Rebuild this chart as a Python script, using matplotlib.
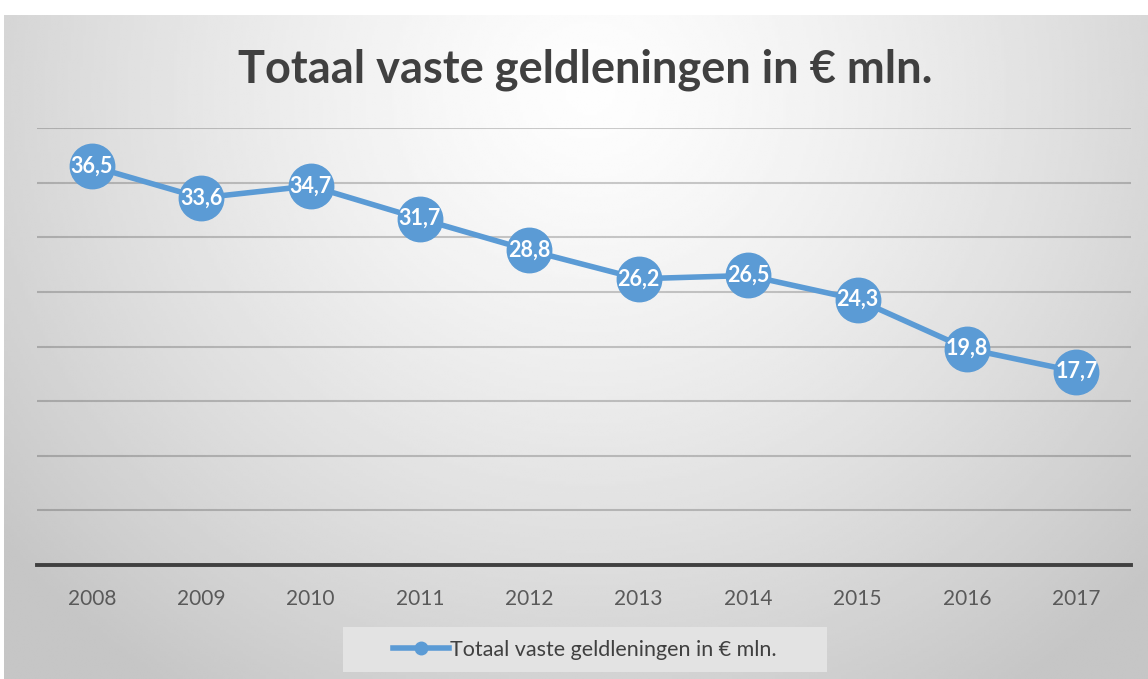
import numpy as np
import matplotlib
matplotlib.use("Agg")
from matplotlib import pyplot as plt
from matplotlib.lines import Line2D
from matplotlib.patches import Rectangle

# data
years = ['2008', '2009', '2010', '2011', '2012', '2013', '2014', '2015', '2016', '2017']
leningen = [36.5, 33.6, 34.7, 31.7, 28.8, 26.2, 26.5, 24.3, 19.8, 17.7]
labels = ['36,5', '33,6', '34,7', '31,7', '28,8', '26,2', '26,5', '24,3', '19,8', '17,7']
series_name = 'Totaal vaste geldleningen in € mln.'

blue = '#5b9bd5'
plt.rcParams['font.family'] = ['Lato', 'DejaVu Sans']

W, H = 1148, 679
fig = plt.figure(figsize=(W / 100, H / 100), dpi=100)
fig.patch.set_facecolor('white')

# radial grey background like the Excel chart area
bg = fig.add_axes([4 / W, 0, 1 - 4 / W, 664 / H], zorder=-5)
xx, yy = np.meshgrid(np.linspace(4, W, 400), np.linspace(15, H, 250))
d = np.sqrt(((xx - 590) / 1.0) ** 2 + ((yy - 90) / 0.95) ** 2)
shade = 0.995 - 0.22 * np.clip(d / 760, 0, 1) ** 1.3
bg.imshow(shade, cmap='gray', vmin=0, vmax=1, aspect='auto',
          extent=[0, 1, 0, 1], interpolation='bilinear')
bg.axis('off')

ax = fig.add_axes([37 / W, 1 - 565 / H, (1131 - 37) / W, (565 - 128) / H])
ax.set_facecolor('none')
x = np.arange(len(years))
ax.plot(x, leningen, color=blue, lw=4, marker='o', ms=32,
        markerfacecolor=blue, markeredgecolor=blue, zorder=3, clip_on=False)
for xi, v, t in zip(x, leningen, labels):
    ax.text(xi, v, t, ha='center', va='center', color='white',
            fontsize=15.5, fontweight='bold', zorder=4)

ax.set_xlim(-0.5, len(years) - 0.5)
ax.set_ylim(0, 40)
ax.set_yticks(np.arange(5, 41, 5))
ax.yaxis.grid(True, color='black', alpha=0.2, lw=1.5)
ax.set_axisbelow(True)
ax.set_xticks(x)
ax.set_xticklabels(years)
ax.tick_params(axis='x', length=0, labelsize=15, labelcolor='#595959', pad=17)
ax.tick_params(axis='y', length=0, labelleft=False)
for s in ['top', 'left', 'right']:
    ax.spines[s].set_visible(False)
ax.spines['bottom'].set_color('#404040')
ax.spines['bottom'].set_linewidth(2.8)

fig.text(585 / W, 1 - 70 / H, series_name, ha='center', va='center',
         fontsize=32.5, fontweight='bold', color='#404040')

# legend box
fig.patches.append(Rectangle((343 / W, 1 - 672 / H), (827 - 343) / W, 45 / H,
                             transform=fig.transFigure, facecolor='#e3e3e3',
                             edgecolor='none', zorder=1))
handle = Line2D([], [], color=blue, lw=4, marker='o', ms=9)
leg = fig.legend([handle], [series_name], loc='center',
                 bbox_to_anchor=(585 / W, 1 - 650 / H), frameon=False,
                 fontsize=15.5, handlelength=2.6, handletextpad=0.05)
for t in leg.get_texts():
    t.set_color('#404040')

fig.savefig('out.png', dpi=100)
